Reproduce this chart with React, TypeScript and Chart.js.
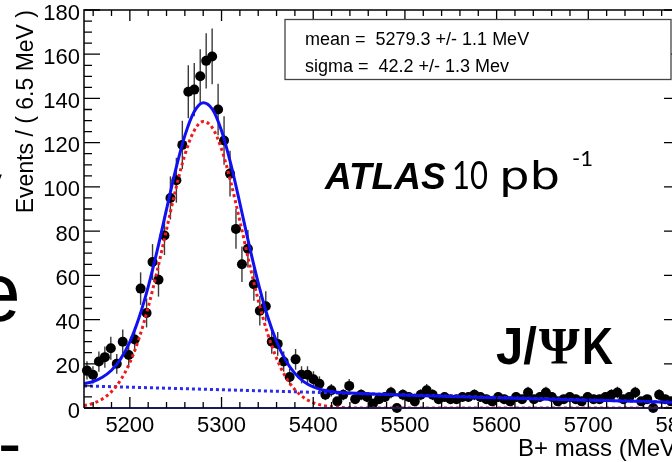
import React, { useEffect, useRef } from 'react';
import { Chart, registerables } from 'chart.js';
Chart.register(...registerables);

// Histogram: B+ candidate mass, bins of 6.5 MeV starting at 5150 MeV
const BIN_START = 5150;
const BIN_WIDTH = 6.5;
const counts = [
  17, 15, 21, 23, 27, 20, 30, 24, 31, 54,
  43, 66, 58, 78, 95, 103, 119, 143, 144, 150,
  157, 159, 135, 121, 106, 81, 65, 72, 56, 44,
  46, 30, 29, 21, 14, 22, 15, 15, 13, 11,
  6, 8, 3, 6, 10, 4, 6, 5, 2, 4,
  5, 7, 0, 6, 5, 3, 6, 8, 6, 4,
  5, 4, 4, 5, 5, 6, 5, 4, 3, 5,
  4, 3, 5, 4, 7, 4, 5, 7, 5, 3,
  4, 5, 4, 3, 5, 4, 4, 5, 6, 7,
  4, 5, 7, 3, 4, 0, 6, 4, 3, 4,
];

// Fit curves
const curveMass = [
  5150, 5160, 5170, 5180, 5190, 5200, 5210, 5220, 5230, 5240,
  5250, 5260, 5270, 5280, 5290, 5300, 5310, 5320, 5330, 5340,
  5350, 5360, 5370, 5380, 5390, 5400, 5410, 5420, 5430, 5440,
  5450, 5800,
];
const signalFit = [
  1.05, 2.1, 4.1, 7.4, 12.7, 20.5, 31.5, 45.6, 62.4, 80.8,
  98.9, 114.5, 125.3, 129.6, 126.7, 117.1, 102.3, 84.6, 66.0, 48.8,
  34.0, 22.5, 14.0, 8.3, 4.6, 2.4, 1.2, 0.6, 0.25, 0.1,
  0.0, 0.0,
];
const totalFit = [
  11.05, 12.0, 13.9, 17.05, 22.2, 29.9, 40.8, 54.8, 71.5, 89.8,
  107.8, 123.2, 133.9, 138.1, 135.1, 125.4, 110.5, 92.6, 73.9, 56.6,
  41.7, 30.1, 21.5, 15.65, 11.8, 9.5, 8.2, 7.5, 7.0, 6.75,
  6.54, 2.5,
];
const bgMass = [5150, 5800];
const bgFit = [10.0, 2.5];

const xTickValues = [5200, 5300, 5400, 5500, 5600, 5700, 5800];
const yTickValues = [0, 20, 40, 60, 80, 100, 120, 140, 160, 180];
const legendLines = ['mean =  5279.3 +/- 1.1 MeV', 'sigma =  42.2 +/- 1.3 Mev'];
const yTitle = 'Events / ( 6.5 MeV )';
const xTitle = 'B+ mass (MeV)';

const SANS = '"Liberation Sans", Arial, sans-serif';

const annotPlugin = {
  id: 'annot',
  beforeDatasetDraw(chart: any, args: any) {
    if (args.index !== 3) return;
    const ctx = chart.ctx;
    const xs = chart.scales.x, ys = chart.scales.y;
    ctx.save();
    ctx.strokeStyle = '#3a3a3a';
    ctx.lineWidth = 1.4;
    counts.forEach((c, i) => {
      if (c <= 0) return;
      const m = BIN_START + BIN_WIDTH * (i + 0.5);
      const e = Math.sqrt(c);
      const px = xs.getPixelForValue(m);
      ctx.beginPath();
      ctx.moveTo(px, ys.getPixelForValue(c + e));
      ctx.lineTo(px, ys.getPixelForValue(Math.max(0, c - e)));
      ctx.stroke();
    });
    ctx.restore();
  },
  afterDraw(chart: any) {
    const ctx = chart.ctx;
    const { left, right, top, bottom } = chart.chartArea;
    const xs = chart.scales.x, ys = chart.scales.y;
    ctx.save();
    // frame
    ctx.strokeStyle = '#000';
    ctx.lineWidth = 1.5;
    ctx.beginPath();
    ctx.moveTo(left, bottom); ctx.lineTo(left, top); ctx.lineTo(right, top); ctx.lineTo(right, bottom);
    ctx.stroke();
    ctx.strokeStyle = '#1c1c5a';
    ctx.lineWidth = 2;
    ctx.beginPath(); ctx.moveTo(left, bottom); ctx.lineTo(right, bottom); ctx.stroke();
    // y ticks
    ctx.strokeStyle = '#000';
    ctx.lineWidth = 1.3;
    for (let v = 0; v <= 180; v += 5) {
      const py = ys.getPixelForValue(v);
      const len = v % 20 === 0 ? 16 : 8;
      ctx.beginPath();
      ctx.moveTo(left, py); ctx.lineTo(left + len, py);
      ctx.moveTo(right, py); ctx.lineTo(right - len, py);
      ctx.stroke();
    }
    // x ticks
    for (let m = 5160; m <= 5800; m += 20) {
      const px = xs.getPixelForValue(m);
      const len = m % 100 === 0 ? 11 : 6;
      ctx.beginPath();
      ctx.moveTo(px, bottom); ctx.lineTo(px, bottom - len);
      ctx.moveTo(px, top); ctx.lineTo(px, top + len);
      ctx.stroke();
    }
    // tick labels
    ctx.fillStyle = '#000';
    ctx.font = `22px ${SANS}`;
    ctx.textAlign = 'right';
    ctx.textBaseline = 'middle';
    yTickValues.forEach((v) => ctx.fillText(String(v), 80, ys.getPixelForValue(v) + 3.5));
    ctx.textAlign = 'center';
    xTickValues.forEach((v) => ctx.fillText(String(v), xs.getPixelForValue(v), 426));
    // axis titles
    ctx.textAlign = 'left';
    ctx.textBaseline = 'alphabetic';
    ctx.font = `24px ${SANS}`;
    ctx.fillText(xTitle, 518, 456);
    ctx.save();
    ctx.translate(33, 10);
    ctx.rotate(-Math.PI / 2);
    ctx.textAlign = 'right';
    ctx.font = `23px ${SANS}`;
    ctx.fillText(yTitle, 0, 0);
    ctx.restore();
    // legend box
    ctx.fillStyle = '#fff';
    ctx.fillRect(285, 19.5, 386, 60);
    ctx.strokeStyle = '#444';
    ctx.lineWidth = 1.3;
    ctx.strokeRect(285, 19.5, 386, 60);
    ctx.fillStyle = '#000';
    ctx.font = `18px ${SANS}`;
    ctx.textBaseline = 'middle';
    ctx.fillText(legendLines[0], 305, 40.5, 233);
    ctx.fillText(legendLines[1], 305, 67);
    // ATLAS label
    ctx.textBaseline = 'alphabetic';
    ctx.font = `italic bold 37px ${SANS}`;
    ctx.fillText('ATLAS', 325, 189, 122);
    ctx.font = `38px Lato, ${SANS}`;
    ctx.fillText('10', 452, 189, 36);
    ctx.save();
    ctx.translate(499, 189);
    ctx.scale(1.3, 1);
    ctx.font = `37px "DejaVu Sans", ${SANS}`;
    ctx.fillText('pb', 0, 0);
    ctx.restore();
    ctx.font = `22px Lato, ${SANS}`;
    ctx.fillText('-1', 572, 166);
    // J/Psi K
    ctx.font = `bold 52px ${SANS}`;
    ctx.fillText('J/', 496, 364, 41);
    ctx.font = `bold 52px "Liberation Serif", serif`;
    ctx.fillText('Ψ', 539, 364, 48);
    ctx.font = `bold 52px ${SANS}`;
    ctx.fillText('K', 582, 364, 31);
    ctx.restore();
  },
};

function App() {
  const ref = useRef<HTMLCanvasElement | null>(null);
  useEffect(() => {
    if (!ref.current) return;
    const pts = counts.map((c, i) => ({ x: BIN_START + BIN_WIDTH * (i + 0.5), y: c }));
    const chart = new Chart(ref.current, {
      type: 'line',
      data: {
        datasets: [
          {
            label: 'total',
            data: curveMass.map((m, i) => ({ x: m, y: totalFit[i] })),
            borderColor: '#1010f0',
            borderWidth: 3,
            pointRadius: 0,
            cubicInterpolationMode: 'monotone',
            fill: false,
          },
          {
            label: 'signal',
            data: curveMass.map((m, i) => ({ x: m, y: signalFit[i] })),
            borderColor: '#f01818',
            borderWidth: 3,
            borderDash: [3, 3],
            pointRadius: 0,
            cubicInterpolationMode: 'monotone',
            fill: false,
          },
          {
            label: 'background',
            data: bgMass.map((m, i) => ({ x: m, y: bgFit[i] })),
            borderColor: '#2a2af0',
            borderWidth: 3,
            borderDash: [3, 3],
            pointRadius: 0,
            fill: false,
          },
          {
            label: 'data',
            data: pts,
            showLine: false,
            pointRadius: 5,
            pointBackgroundColor: '#000',
            pointBorderColor: '#000',
            pointBorderWidth: 0,
            clip: false as any,
          },
        ],
      },
      options: {
        animation: false,
        responsive: false,
        maintainAspectRatio: false,
        devicePixelRatio: 1,
        events: [],
        layout: { padding: { left: 84, top: 10, right: 20, bottom: 54 } },
        plugins: { legend: { display: false }, tooltip: { enabled: false } },
        scales: {
          x: { type: 'linear', min: 5150, max: 5800, display: false },
          y: { type: 'linear', min: 0, max: 180, display: false },
        },
      },
      plugins: [annotPlugin],
    } as any);
    return () => chart.destroy();
  }, []);

  return (
    <div style={{ position: 'fixed', left: 0, top: 0, width: 672, height: 462, overflow: 'hidden', background: '#fff' }}>
      <div style={{ position: 'absolute', left: -40, top: 148, font: `84px ${SANS}`, lineHeight: '84px', color: '#000' }}>y</div>
      <div style={{ position: 'absolute', left: -26, top: 250, font: `84px ${SANS}`, lineHeight: '84px', color: '#000' }}>e</div>
      <div style={{ position: 'absolute', left: -2, top: 408, font: `70px ${SANS}`, lineHeight: '70px', color: '#000' }}>-</div>
      <canvas ref={ref} width={700} height={462} style={{ position: 'absolute', left: 0, top: 0, display: 'block' }} />
    </div>
  );
}

export default App;
